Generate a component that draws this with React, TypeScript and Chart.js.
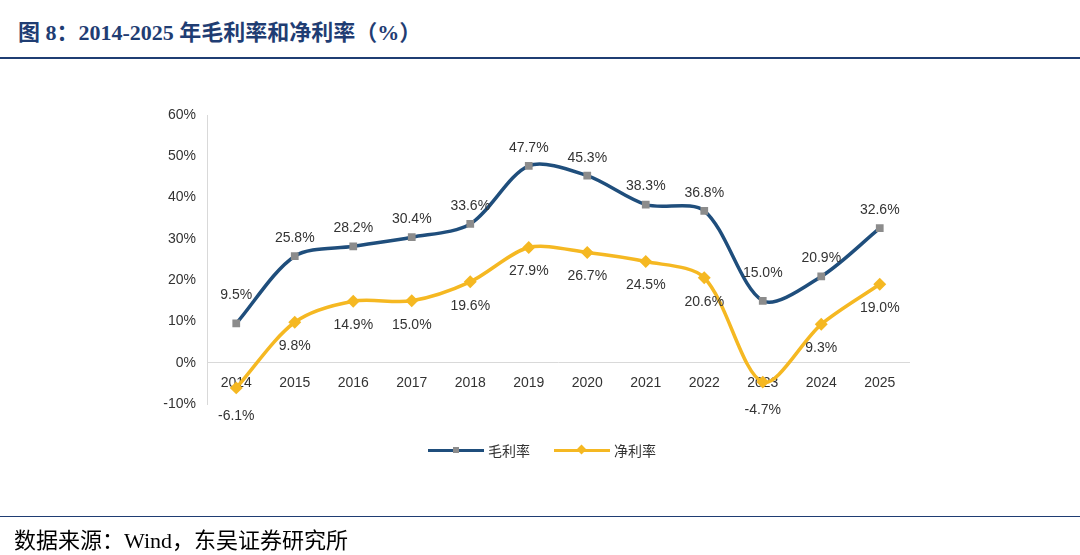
import React, { useEffect, useRef } from "react";
import { Chart, registerables } from "chart.js";
Chart.register(...registerables);

const years = ["2014","2015","2016","2017","2018","2019","2020","2021","2022","2023","2024","2025"];
const gross = [9.5,25.8,28.2,30.4,33.6,47.7,45.3,38.3,36.8,15.0,20.9,32.6];
const net = [-6.1,9.8,14.9,15.0,19.6,27.9,26.7,24.5,20.6,-4.7,9.3,19.0];
const BLUE = "#1f4e7c";
const YEL = "#f5b822";

const labelPlugin = {
  id: "lbls",
  afterDatasetsDraw(chart: any) {
    const ctx = chart.ctx;
    ctx.save();
    ctx.font = "14px Arial, 'Liberation Sans'";
    ctx.fillStyle = "#333";
    ctx.textAlign = "center";
    chart.data.datasets.forEach((ds: any, di: number) => {
      const meta = chart.getDatasetMeta(di);
      meta.data.forEach((p: any, i: number) => {
        const v = ds.data[i];
        let dy = di === 0 ? -18 : 24;
        if (di === 0 && i === 0) dy = -28;
        if (di === 0 && i === 9) dy = -28;
        if (di === 1 && (i === 0 || i === 9)) dy = 28;
        ctx.textBaseline = "middle";
        ctx.fillText(v.toFixed(1) + "%", p.x, p.y + dy);
      });
    });
    ctx.restore();
  },
};

export default function App() {
  const ref = useRef<HTMLCanvasElement>(null);
  useEffect(() => {
    const c = new Chart(ref.current!, {
      type: "line",
      data: {
        labels: years,
        datasets: [
          { data: gross, borderColor: BLUE, borderWidth: 3.5, tension: 0.3, pointStyle: "rect", pointRadius: 3, pointBackgroundColor: "#8c8c8c", pointBorderColor: "#8c8c8c" },
          { data: net, borderColor: YEL, borderWidth: 3.5, tension: 0.3, pointStyle: "rectRot", pointRadius: 4, pointBackgroundColor: YEL, pointBorderColor: YEL },
        ],
      },
      options: {
        animation: false,
        responsive: false,
        layout: { padding: { left: 150, right: 171, top: 115, bottom: 151 } },
        plugins: { legend: { display: false }, tooltip: { enabled: false } },
        scales: {
          x: {
            offset: true,
            position: { y: 0 } as any,
            grid: { display: false, drawTicks: false, offset: true },
            border: { color: "#d9d9d9" },
            ticks: { color: "#333", font: { size: 14, family: "Arial" }, padding: 12 },
          },
          y: {
            min: -10, max: 60,
            afterFit: (s: any) => { s.width = 57; },
            grid: { display: false },
            border: { color: "#d9d9d9" },
            ticks: { stepSize: 10, color: "#333", font: { size: 14, family: "Arial" }, callback: (v: any) => v + "%" },
          },
        },
      },
      plugins: [labelPlugin],
    });
    return () => c.destroy();
  }, []);
  return (
    <div style={{ position: "absolute", left: 0, top: 0, width: 1080, height: 555, background: "#fff", fontFamily: "'Liberation Serif', serif" }}>
      <div style={{ position: "absolute", left: 18, top: 14, fontSize: 22, fontWeight: "bold", color: "#1f3d73", fontFamily: "'Liberation Serif','Noto Sans CJK SC',serif" }}>图 8：2014-2025 年毛利率和净利率（%）</div>
      <div style={{ position: "absolute", left: 0, top: 57, width: 1080, height: 2, background: "#1f3d73" }} />
      <canvas ref={ref} width={1080} height={555} style={{ position: "absolute", left: 0, top: 0 }} />
      <div style={{ position: "absolute", left: 428, top: 440, display: "flex", alignItems: "center", fontSize: 14, color: "#333", fontFamily: "'Noto Sans CJK SC', sans-serif" }}>
        <span style={{ display: "inline-block", width: 56, height: 3, background: BLUE, position: "relative", marginRight: 4 }}><span style={{ position: "absolute", left: 25, top: -2, width: 6, height: 6, background: "#8c8c8c" }} /></span>毛利率
        <span style={{ display: "inline-block", width: 56, height: 3, background: YEL, position: "relative", marginLeft: 24, marginRight: 4 }}><span style={{ position: "absolute", left: 24, top: -3, width: 7, height: 7, background: YEL, transform: "rotate(45deg)" }} /></span>净利率
      </div>
      <div style={{ position: "absolute", left: 0, top: 516, width: 1080, height: 1, background: "#1f3d73" }} />
      <div style={{ position: "absolute", left: 14, top: 522, fontSize: 22, color: "#000", fontFamily: "'Liberation Serif','Noto Sans CJK SC',serif" }}>数据来源：Wind，东吴证券研究所</div>
    </div>
  );
}
